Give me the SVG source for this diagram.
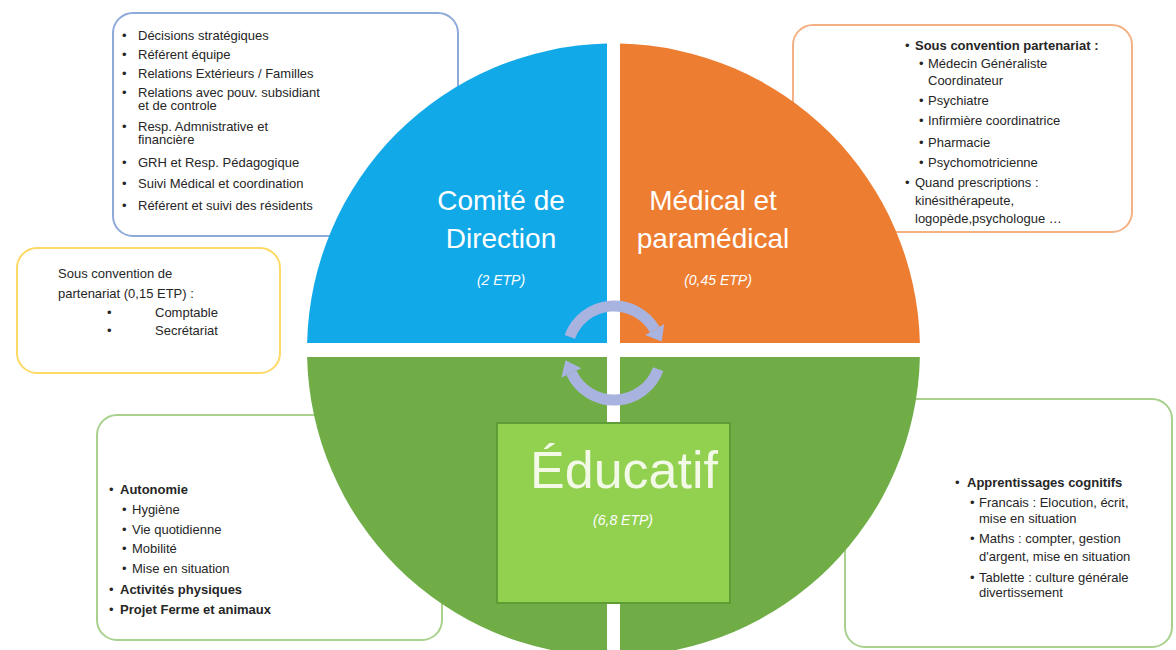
<svg xmlns="http://www.w3.org/2000/svg" width="1176" height="650" viewBox="0 0 1176 650">
<style>
.box{fill:#ffffff;stroke-width:2}
.t{font-family:"Liberation Sans",Arial,sans-serif;font-size:13px;fill:#262626}
.b{font-weight:bold}
.title{font-family:"Liberation Sans",Arial,sans-serif;font-size:28px;fill:#ffffff;text-anchor:middle}
.etp{font-family:"Liberation Sans",Arial,sans-serif;font-size:14px;font-style:italic;fill:#ffffff;text-anchor:middle}
.arr{fill:none;stroke:#a9b3e0;stroke-width:11}
.head{fill:#a9b3e0}
</style>
<rect width="1176" height="650" fill="#ffffff"/>

<g id="box-direction">
<rect class="box" x="113" y="13" width="345" height="223" rx="20" stroke="#8eaadb"/>
<g class="t">
<text x="122" y="40">•</text><text x="138" y="40">Décisions stratégiques</text>
<text x="122" y="59">•</text><text x="138" y="59">Référent équipe</text>
<text x="122" y="78">•</text><text x="138" y="78">Relations Extérieurs / Familles</text>
<text x="122" y="97">•</text><text x="138" y="97">Relations avec pouv. subsidiant</text>
<text x="138" y="110">et de controle</text>
<text x="122" y="131">•</text><text x="138" y="131">Resp. Admnistrative et</text>
<text x="138" y="144">financière</text>
<text x="122" y="167">•</text><text x="138" y="167">GRH et Resp. Pédagogique</text>
<text x="122" y="188">•</text><text x="138" y="188">Suivi Médical et coordination</text>
<text x="122" y="210">•</text><text x="138" y="210">Référent et suivi des résidents</text>
</g>
</g>

<g id="box-medical">
<rect class="box" x="793" y="25" width="339" height="207" rx="20" stroke="#f4b183"/>
<g class="t">
<text x="905" y="50">•</text><text class="b" x="915" y="50">Sous convention partenariat :</text>
<text x="919" y="68">•</text><text x="928" y="68">Médecin Généraliste</text>
<text x="928" y="85">Coordinateur</text>
<text x="919" y="105">•</text><text x="928" y="105">Psychiatre</text>
<text x="919" y="125">•</text><text x="928" y="125">Infirmière coordinatrice</text>
<text x="919" y="147">•</text><text x="928" y="147">Pharmacie</text>
<text x="919" y="167">•</text><text x="928" y="167">Psychomotricienne</text>
<text x="905" y="187">•</text><text x="915" y="187">Quand prescriptions :</text>
<text x="915" y="205">kinésithérapeute,</text>
<text x="915" y="223">logopède,psychologue …</text>
</g>
</g>

<g id="box-partenariat">
<rect class="box" x="17" y="248" width="263" height="125" rx="20" stroke="#ffd966"/>
<g class="t">
<text x="58" y="278">Sous convention de</text>
<text x="58" y="298">partenariat (0,15 ETP) :</text>
<text x="107" y="317">•</text><text x="155" y="317">Comptable</text>
<text x="107" y="335">•</text><text x="155" y="335">Secrétariat</text>
</g>
</g>

<g id="box-autonomie">
<rect class="box" x="97" y="415" width="345" height="225" rx="20" stroke="#a9d18e"/>
<g class="t">
<text x="109" y="494">•</text><text class="b" x="120" y="494">Autonomie</text>
<text x="122" y="514">•</text><text x="132" y="514">Hygiène</text>
<text x="122" y="534">•</text><text x="132" y="534">Vie quotidienne</text>
<text x="122" y="553">•</text><text x="132" y="553">Mobilité</text>
<text x="122" y="573">•</text><text x="132" y="573">Mise en situation</text>
<text x="109" y="594">•</text><text class="b" x="120" y="594">Activités physiques</text>
<text x="109" y="614">•</text><text class="b" x="120" y="614">Projet Ferme et animaux</text>
</g>
</g>

<g id="box-cognitif">
<rect class="box" x="845" y="399" width="327" height="248" rx="20" stroke="#a9d18e"/>
<g class="t">
<text x="955" y="487">•</text><text class="b" x="967" y="487">Apprentissages cognitifs</text>
<text x="970" y="507">•</text><text x="979" y="507">Francais : Elocution, écrit,</text>
<text x="979" y="523">mise en situation</text>
<text x="970" y="543">•</text><text x="979" y="543">Maths : compter, gestion</text>
<text x="979" y="561">d'argent, mise en situation</text>
<text x="970" y="582">•</text><text x="979" y="582">Tablette : culture générale</text>
<text x="979" y="597">divertissement</text>
</g>
</g>

<g id="node-direction">
<path d="M607,343 V43.6 A306.5,306.5 0 0 0 307.1,343 Z" fill="#12a9e9"/>
<text class="title" x="501" y="210">Comité de</text>
<text class="title" x="501" y="248">Direction</text>
<text class="etp" x="501" y="285">(2 ETP)</text>
</g>

<g id="node-medical">
<path d="M620,343 V43.6 A306.5,306.5 0 0 1 919.9,343 Z" fill="#ed7d31"/>
<text class="title" x="713" y="210" fill="#fdf0e6">Médical et</text>
<text class="title" x="713" y="248">paramédical</text>
<text class="etp" x="718" y="285">(0,45 ETP)</text>
</g>

<g id="node-educatif">
<path d="M607,357 V656.4 A306.5,306.5 0 0 1 307.1,357 Z" fill="#70ad47"/>
<path d="M620,357 H919.9 A306.5,306.5 0 0 1 620,656.4 Z" fill="#70ad47"/>
<rect x="497" y="423" width="233" height="180" fill="#92d050" stroke="#5e9c35" stroke-width="2"/>
<text x="624" y="488" font-family="Liberation Sans, Arial, sans-serif" font-size="52" fill="#f2f9e6" text-anchor="middle">Éducatif</text>
<text class="etp" x="623" y="525" fill="#f2f9e6">(6,8 ETP)</text>
</g>

<g id="connectors">
<path class="arr" d="M569.8,336.9 A47,47 0 0 1 654.7,329.5"/>
<polygon class="head" points="664.2,324 645.2,335 661.7,341.6"/>
<path class="arr" d="M658.2,369.1 A47,47 0 0 1 571.4,372.9"/>
<polygon class="head" points="561.4,377.5 581.4,368.3 565.5,360.2"/>
</g>
</svg>
